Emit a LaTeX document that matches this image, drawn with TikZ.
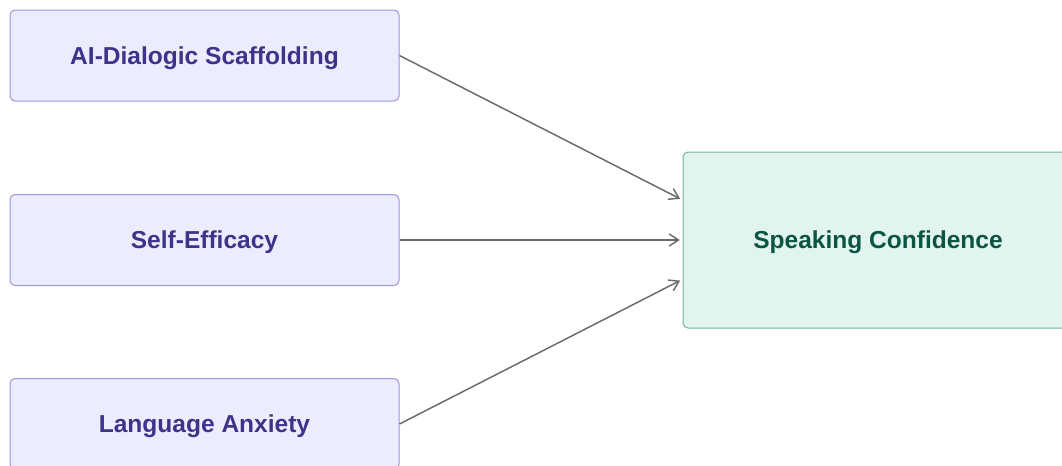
\documentclass[tikz,border=0pt]{standalone}
\usepackage{fontspec}
\setmainfont{Liberation Sans}
\usepackage{tikz}
\usetikzlibrary{arrows.meta}
\definecolor{factfill}{HTML}{ECECFF}
\definecolor{factline}{HTML}{9E94E0}
\definecolor{facttext}{HTML}{3C3489}
\definecolor{goalfill}{HTML}{E1F5EE}
\definecolor{goalline}{HTML}{72B49B}
\definecolor{goaltext}{HTML}{0B5444}
\definecolor{linkgray}{HTML}{6A6A6A}

\begin{document}
\begin{tikzpicture}[x=0.75pt,y=-0.75pt,
	factor/.style={draw=factline,fill=factfill,text=facttext,line width=0.75pt,rounded corners=3.75pt,
		minimum width=291.75pt,minimum height=68.25pt,text height=13.2pt,text depth=0pt,
		font=\fontsize{18.4}{22}\selectfont\bfseries},
	goal/.style={draw=goalline,fill=goalfill,text=goaltext,line width=0.75pt,rounded corners=3.75pt,
		minimum width=292.5pt,minimum height=132pt,text height=13.2pt,text depth=0pt,
		font=\fontsize{18.4}{22}\selectfont\bfseries},
	link/.style={draw=linkgray,line width=1.1pt,-{Straight Barb[length=7pt,width=9pt]},shorten >=2pt}]
			\clip (0,0) rectangle (1062,465);
			\node[factor] (scaff) at (204.5,55.5) {AI-Dialogic Scaffolding};
			\node[factor] (effic) at (204.5,240) {Self-Efficacy};
			\node[factor] (anxty) at (204.5,424) {Language Anxiety};
			\node[goal] (conf) at (878,240) {Speaking Confidence};
			\draw[link] (scaff.east) -- ([yshift=30pt]conf.west);
			\draw[link] (effic.east) -- (conf.west);
			\draw[link] (anxty.east) -- ([yshift=-29.5pt]conf.west);
			\end{tikzpicture}
\end{document}
